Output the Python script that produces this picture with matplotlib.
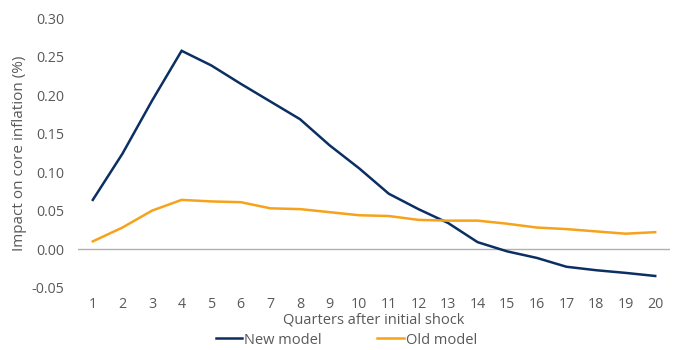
import matplotlib
matplotlib.use("Agg")
import matplotlib.pyplot as plt
from matplotlib.lines import Line2D

quarters = list(range(1, 21))
new_model = [0.064, 0.124, 0.193, 0.258, 0.239, 0.215, 0.192, 0.169, 0.135, 0.105,
             0.072, 0.052, 0.034, 0.009, -0.003, -0.0115, -0.023, -0.0275, -0.031, -0.035]
old_model = [0.010, 0.028, 0.050, 0.064, 0.062, 0.061, 0.053, 0.052, 0.048, 0.044,
             0.043, 0.038, 0.037, 0.037, 0.033, 0.028, 0.026, 0.023, 0.020, 0.022]
y_ticks = [-0.05, 0.00, 0.05, 0.10, 0.15, 0.20, 0.25, 0.30]

navy = "#0b2f63"
orange = "#f7a21b"
text_col = "#595959"

plt.rcParams['font.family'] = ['Open Sans', 'DejaVu Sans']

fig = plt.figure(figsize=(6.76, 3.5), dpi=100)
ax = fig.add_axes([78 / 676, 1 - 287.5 / 350, 592 / 676, 269 / 350])

ax.plot(quarters, new_model, color=navy, lw=1.8, solid_joinstyle='miter')
ax.plot(quarters, old_model, color=orange, lw=1.8, solid_joinstyle='miter')
ax.axhline(0, color="#b0b0b0", lw=1.0, zorder=0)

ax.set_xlim(0.5, 20.5)
ax.set_ylim(-0.05, 0.30)
ax.set_yticks(y_ticks)
ax.set_yticklabels([f"{v:.2f}" for v in y_ticks])
ax.set_xticks(quarters)
ax.set_xticklabels([str(q) for q in quarters])
for s in ax.spines.values():
    s.set_visible(False)
ax.tick_params(axis='both', length=0, labelsize=10.3, colors=text_col)
ax.tick_params(axis='x', pad=7)
ax.tick_params(axis='y', pad=10)

ax.set_xlabel("Quarters after initial shock", fontsize=10.5, color=text_col, labelpad=0)
ax.set_ylabel("Impact on core inflation (%)", fontsize=11, color=text_col, labelpad=3)

handles = [Line2D([], [], color=navy, lw=1.8), Line2D([], [], color=orange, lw=1.8)]
fig.legend(handles, ["New model", "Old model"], loc='center', bbox_to_anchor=(0.5126, 1 - 340 / 350),
           ncol=2, frameon=False, fontsize=10.5, handlelength=1.8, handletextpad=0.15,
           columnspacing=3.8, labelcolor=text_col, borderpad=0, borderaxespad=0)

fig.savefig("out.png", dpi=100)
